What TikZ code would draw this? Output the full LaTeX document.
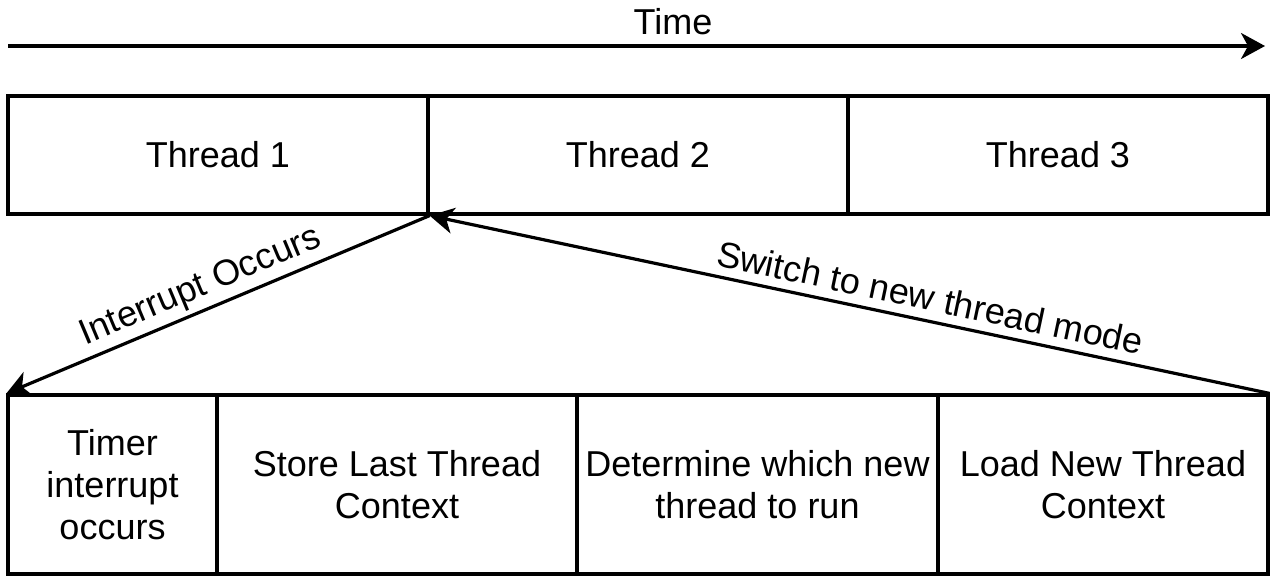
\documentclass[tikz,border=0pt]{standalone}
\usepackage{fontspec}
\setmainfont{Liberation Sans}
\usetikzlibrary{arrows.meta}

\tikzstyle{thread} = [draw=black,line width=1.6pt,rectangle,inner sep=0pt,minimum width=210pt,minimum height=59pt]
\tikzstyle{stage} = [draw=black,line width=1.6pt,rectangle,inner sep=0pt,minimum height=89.5pt,align=center]
\tikzstyle{edge} = [draw=black,line width=1.6pt,-{Stealth[length=12pt,width=13pt,inset=3.5pt]}]

\begin{document}
\begin{tikzpicture}[x=0.5pt,y=-0.5pt,font=\fontsize{18}{21}\selectfont]
    \useasboundingbox (0, 0) rectangle (1272, 580);

    \coordinate (start) at (8, 46);
    \coordinate (end) at (1265, 46);

    \node (time) at (673, 22) {Time};

    \node [style=thread] (T1) at (218, 155) {Thread 1};
    \node [style=thread] (T2) at (638, 155) {Thread 2};
    \node [style=thread] (T3) at (1058, 155) {Thread 3};

    \node [style=stage, minimum width=104.5pt] (S1) at (112.5, 484.5) {Timer\\interrupt\\occurs};
    \node [style=stage, minimum width=180pt] (S2) at (397, 484.5) {Store Last Thread\\Context};
    \node [style=stage, minimum width=180.5pt] (S3) at (757.5, 484.5) {Determine which new\\thread to run};
    \node [style=stage, minimum width=165pt] (S4) at (1103, 484.5) {Load New Thread\\Context};

    \draw [style=edge] (start) -- (end);
    \draw [style=edge] (T1.south east) -- node [sloped, above=-1pt, pos=0.52] {Interrupt Occurs} (S1.north west);
    \draw [style=edge] (S4.north east) -- node [sloped, above=1pt, pos=0.41] {Switch to new thread mode} (T1.south east);
\end{tikzpicture}
\end{document}
